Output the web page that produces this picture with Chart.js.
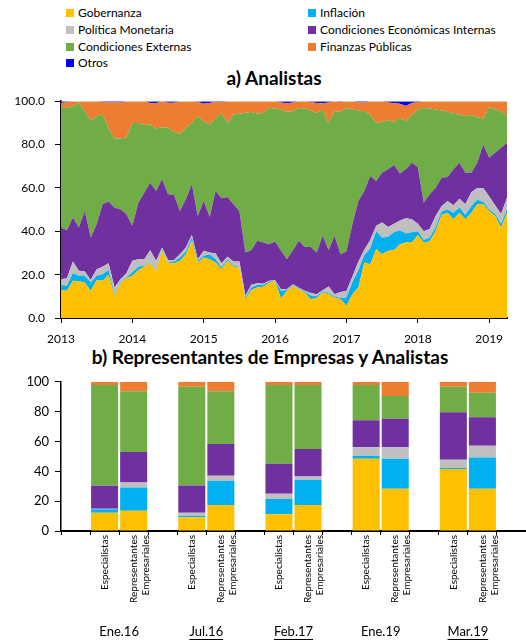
<!DOCTYPE html>
<html>
<head>
<meta charset="utf-8">
<script src="https://cdn.jsdelivr.net/npm/chart.js@4.4.1/dist/chart.umd.min.js"></script>
<style>
  body { margin:0; width:526px; height:641px; background:#fff; position:relative; font-family: Lato, sans-serif; overflow:hidden; }
  .ley { position:absolute; font-size:12px; color:#000; line-height:14px; white-space:nowrap; }
  .ley span { display:inline-block; width:8px; height:8px; margin-right:4px; }
  .titulo { position:absolute; left:0; width:526px; text-align:center; font-weight:bold; font-size:19px; line-height:22px; }
  canvas { position:absolute; left:0; }
</style>
</head>
<body>
<div id="leyenda"></div>
<div class="titulo" style="left:11px;top:67px">a) Analistas</div>
<div class="titulo" style="left:7px;top:346px">b) Representantes de Empresas y Analistas</div>
<canvas id="chartA" width="526" height="261" style="top:84px"></canvas>
<canvas id="chartB" width="526" height="273" style="top:368px"></canvas>
<script>
const nombres = ['Gobernanza', 'Inflación', 'Política Monetaria', 'Condiciones Económicas Internas',
  'Condiciones Externas', 'Finanzas Públicas', 'Otros'];
const colores = ['#FFC000', '#00B0F0', '#BFBFBF', '#7030A0', '#70AD47', '#ED7D31', '#0000FF'];

// a) Analistas: mensual, ene-2013 a abr-2019 (76 meses)
const fechas = [];
for (let k = 0; k < 76; k++) fechas.push(2013 + k / 12);
const anios = [2013, 2014, 2015, 2016, 2017, 2018, 2019];

const gob = [12.9, 12.6, 17.2, 16.9, 16.4, 12.6, 17.5, 17.2, 19.8, 10.3,
  16.0, 18.3, 19.5, 22.1, 23.8, 25.2, 21.8, 31.3, 25.2, 25.3,
  26.4, 29.4, 35.6, 25.6, 27.9, 27.1, 25.6, 22.5, 26.4, 23.6,
  23.3, 8.7, 12.9, 14.1, 14.4, 16.3, 16.9, 9.0, 12.6, 14.9,
  13.3, 11.8, 8.7, 9.2, 11.8, 11.0, 9.5, 8.7, 5.7, 11.0,
  14.1, 25.6, 24.8, 31.7, 29.4, 31.0, 31.3, 34.0, 34.8, 34.8,
  38.3, 34.8, 35.3, 40.2, 47.5, 48.6, 45.6, 48.6, 45.6, 48.6,
  52.5, 52.5, 49.4, 47.1, 41.7, 48.6];
const inf = [2.3, 2.3, 3.4, 2.6, 3.1, 3.8, 2.0, 3.0, 2.3, 0.7,
  0.4, 0.4, 1.5, 1.5, 0.3, 0.3, 0.3, 0.6, 0.4, 0.8,
  1.5, 1.3, 1.5, 0.8, 0.8, 2.3, 1.5, 0.8, 0.7, 0.5,
  0.3, 0.8, 1.2, 1.1, 0.8, 0.5, 0.2, 3.5, 0.4, 0.3,
  0.3, 0.4, 1.7, 0.8, 0.4, 0.4, 0.4, 0.5, 3.8, 5.5,
  7.9, 3.4, 7.2, 8.3, 7.6, 6.5, 8.2, 6.5, 4.2, 4.7,
  1.7, 1.2, 1.7, 1.8, 1.5, 1.4, 2.9, 2.4, 1.9, 2.9,
  2.0, 1.0, 0.6, 0.9, 1.8, 1.4];
const pol = [2.7, 3.4, 5.5, 2.3, 2.0, 1.1, 3.0, 3.4, 3.1, 3.1,
  1.5, 1.9, 5.4, 3.5, 3.0, 5.8, 4.3, 0.6, 1.1, 0.6,
  1.5, 1.8, 1.2, 0.7, 2.3, 0.8, 2.7, 1.9, 1.1, 2.0,
  2.5, 0.8, 1.2, 0.8, 0.6, 0.4, 0.3, 0.7, 0.4, 0.4,
  0.4, 0.4, 1.1, 1.0, 0.6, 3.1, 1.1, 2.8, 3.0, 2.5,
  4.0, 2.5, 4.0, 2.5, 7.0, 4.5, 4.0, 4.5, 7.0, 6.0,
  3.5, 4.0, 4.0, 5.0, 2.5, 4.0, 3.5, 4.0, 5.0, 6.5,
  5.5, 6.5, 6.0, 4.0, 4.5, 5.5];
const cei = [23.8, 22.2, 20.2, 19.9, 27.9, 19.6, 20.8, 28.9, 28.5, 36.8,
  32.3, 27.3, 16.1, 26.1, 30.7, 31.1, 32.2, 31.5, 30.4, 30.0,
  20.0, 22.3, 23.4, 20.0, 23.0, 16.4, 28.8, 30.0, 27.6, 26.4,
  23.3, 19.9, 16.0, 19.6, 19.0, 16.8, 17.9, 17.8, 13.7, 15.7,
  21.6, 20.2, 21.3, 19.2, 25.1, 16.8, 26.9, 17.4, 18.2, 24.3,
  28.0, 27.1, 29.5, 20.7, 23.0, 26.6, 27.1, 21.6, 22.6, 26.1,
  26.1, 13.2, 16.1, 13.1, 13.2, 11.0, 16.6, 16.6, 14.5, 9.0,
  11.6, 20.0, 17.9, 24.2, 30.5, 25.3];
const cex = [55.5, 56.4, 51.4, 57.5, 46.0, 54.0, 49.8, 41.4, 33.7, 31.9,
  32.6, 35.5, 47.5, 36.8, 31.2, 26.9, 28.8, 24.0, 30.6, 29.2,
  35.6, 32.9, 28.3, 46.0, 36.8, 42.7, 33.7, 39.4, 34.2, 41.4,
  44.9, 64.4, 63.8, 58.7, 59.8, 62.9, 61.3, 65.2, 68.0, 64.1,
  61.3, 63.8, 62.9, 64.4, 58.3, 58.7, 57.5, 65.7, 66.2, 52.9,
  41.7, 36.8, 28.1, 26.8, 23.5, 22.5, 19.9, 25.7, 22.2, 22.0,
  26.6, 43.7, 39.5, 36.1, 31.0, 30.4, 25.6, 22.3, 26.1, 26.6,
  21.0, 12.0, 23.3, 20.0, 16.9, 12.8];
const fp = [2.0, 2.7, 2.3, 0.8, 4.6, 8.9, 6.9, 5.7, 12.0, 16.7,
  16.6, 16.6, 10.0, 10.0, 11.0, 9.9, 11.6, 12.0, 11.6, 13.4,
  15.0, 12.3, 10.0, 6.6, 8.0, 9.9, 7.4, 4.8, 10.0, 6.1,
  5.7, 5.4, 4.9, 5.7, 5.4, 3.1, 3.4, 3.2, 3.9, 4.0,
  3.1, 3.4, 3.9, 4.6, 2.8, 9.4, 4.6, 4.5, 3.1, 3.8,
  3.8, 4.0, 6.4, 10.0, 9.5, 8.3, 8.5, 6.5, 7.0, 5.6,
  3.4, 3.1, 3.4, 3.8, 4.3, 4.6, 5.8, 6.1, 6.9, 6.4,
  7.4, 8.0, 2.8, 3.8, 4.6, 6.4];
const otros = [0.8, 0.4, 0, 0, 0, 0, 0, 0.4, 0.6, 0.5,
  0.6, 0, 0, 0, 0, 0.8, 1.0, 0, 0.7, 0.7,
  0, 0, 0, 0.3, 1.2, 0.8, 0.3, 0.6, 0, 0,
  0, 0, 0, 0, 0, 0, 0, 0.6, 1.0, 0.6,
  0, 0, 0.4, 0.8, 1.0, 0.6, 0, 0.4, 0, 0,
  0.5, 0.6, 0, 0, 0, 0.6, 1.0, 1.2, 2.2, 0.8,
  0.4, 0, 0, 0, 0, 0, 0, 0, 0, 0,
  0, 0, 0, 0, 0, 0];
const analistas = [gob, inf, pol, cei, cex, fp, otros];

// b) Representantes de Empresas y Analistas
const grupos = ['Ene.16', 'Jul.16', 'Feb.17', 'Ene.19', 'Mar.19'];
const subrayado = [false, true, true, false, true];
// pares: Especialistas, Representantes Empresariales por cada fecha
const gobB = [12.3, 13.5, 9.2, 17.5, 11.2, 17.5, 48.4, 28.3, 41.5, 28.3];
const infB = [2.3, 15.6, 1.1, 16.1, 10.3, 16.8, 2.0, 20.1, 0.7, 21.0];
const polB = [0.3, 3.4, 2.0, 3.4, 3.4, 2.2, 5.7, 7.7, 5.6, 7.9];
const ceiB = [15.4, 20.4, 18.2, 21.3, 20.2, 18.4, 18.1, 19.2, 31.8, 19.0];
const cexB = [67.5, 40.8, 66.1, 35.4, 52.7, 42.9, 23.6, 15.1, 17.0, 16.4];
const fpB = [2.2, 6.3, 3.4, 6.3, 2.2, 2.2, 2.2, 9.6, 3.4, 7.4];
const otrosB = [0, 0, 0, 0, 0, 0, 0, 0, 0, 0];
const empresas = [gobB, infB, polB, ceiB, cexB, fpB, otrosB];

Chart.defaults.font.family = 'Lato';
Chart.defaults.color = '#000';

// leyenda en dos columnas
const ley = document.getElementById('leyenda');
nombres.forEach((n, k) => {
  const d = document.createElement('div');
  d.className = 'ley';
  d.style.left = (k % 2 ? 308 : 66) + 'px';
  d.style.top = (6 + Math.floor(k / 2) * 16.8) + 'px';
  d.innerHTML = '<span style="background:' + colores[k] + '"></span>' + n;
  ley.appendChild(d);
});

const ejeComun = {
  grid: { drawOnChartArea: false, color: '#000' },
  border: { color: '#000' }
};

new Chart(document.getElementById('chartA'), {
  type: 'line',
  data: {
    datasets: analistas.map((serie, k) => ({
      label: nombres[k],
      data: serie.map((v, i) => ({ x: fechas[i], y: v })),
      backgroundColor: colores[k],
      borderColor: colores[k],
      borderWidth: 0,
      pointRadius: 0,
      tension: 0,
      fill: k === 0 ? 'origin' : '-1'
    }))
  },
  options: {
    responsive: false,
    animation: false,
    layout: { padding: { top: 0, right: 19, left: 0, bottom: 0 } },
    plugins: { legend: { display: false }, tooltip: { enabled: false } },
    scales: {
      x: {
        type: 'linear', min: 2013, max: 2019.25,
        ticks: { stepSize: 1, includeBounds: false, autoSkip: false, maxRotation: 0,
          padding: 9, font: { size: 12 },
          callback: v => anios.includes(v) ? String(v) : '' },
        grid: { ...ejeComun.grid, tickLength: 5 },
        border: { color: '#000', width: 2 },
        afterFit: s => { s.height = 27; }
      },
      y: {
        stacked: true, min: 0, max: 100,
        ticks: { stepSize: 20, padding: 10, font: { size: 12 }, callback: v => v.toFixed(1) },
        grid: { ...ejeComun.grid, tickLength: 6 },
        border: { color: '#000', width: 1.5 },
        afterFit: s => { s.width = 61; }
      }
    }
  }
});

// etiquetas: hueco, Especialistas, Representantes Empresariales, hueco...
const etiquetasB = [''];
grupos.forEach(() => etiquetasB.push('Especialistas', ['Representantes', 'Empresariales'], ''));

const expandir = arr => {
  const d = [null];
  grupos.forEach((g, j) => d.push(arr[2 * j], arr[2 * j + 1], null));
  return d;
};

const etiquetasGrupo = {
  id: 'etiquetasGrupo',
  afterDraw(chart) {
    const ctx = chart.ctx;
    const x = chart.scales.x;
    ctx.save();
    ctx.font = '13px Lato';
    ctx.fillStyle = '#000';
    ctx.strokeStyle = '#000';
    ctx.textAlign = 'center';
    ctx.textBaseline = 'middle';
    const y = chart.height - 9;
    grupos.forEach((g, j) => {
      const cx = (x.getPixelForValue(3 * j + 1) + x.getPixelForValue(3 * j + 2)) / 2;
      ctx.fillText(g, cx, y);
      if (subrayado[j]) {
        const w = ctx.measureText(g).width;
        ctx.lineWidth = 1;
        ctx.beginPath();
        ctx.moveTo(cx - w / 2, y + 7.5);
        ctx.lineTo(cx + w / 2, y + 7.5);
        ctx.stroke();
      }
    });
    ctx.restore();
  }
};

new Chart(document.getElementById('chartB'), {
  type: 'bar',
  data: {
    labels: etiquetasB,
    datasets: empresas.map((serie, k) => ({
      label: nombres[k],
      data: expandir(serie),
      backgroundColor: colores[k],
      borderWidth: 0,
      barPercentage: 0.93,
      categoryPercentage: 1
    }))
  },
  options: {
    responsive: false,
    animation: false,
    layout: { padding: { top: 12, right: 0, left: 0, bottom: 0 } },
    plugins: { legend: { display: false }, tooltip: { enabled: false } },
    scales: {
      x: {
        stacked: true,
        ticks: { autoSkip: false, minRotation: 90, maxRotation: 90, padding: 0, font: { size: 10 } },
        grid: { ...ejeComun.grid, tickLength: 4 },
        border: { color: '#000', width: 2 },
        afterFit: s => { s.height = 110; }
      },
      y: {
        stacked: true, min: 0, max: 100,
        ticks: { stepSize: 20, padding: 6, font: { size: 13 } },
        grid: { ...ejeComun.grid, tickLength: 6 },
        border: { color: '#000', width: 1.5 },
        afterFit: s => { s.width = 61; }
      }
    }
  },
  plugins: [etiquetasGrupo]
});
</script>
</body>
</html>
